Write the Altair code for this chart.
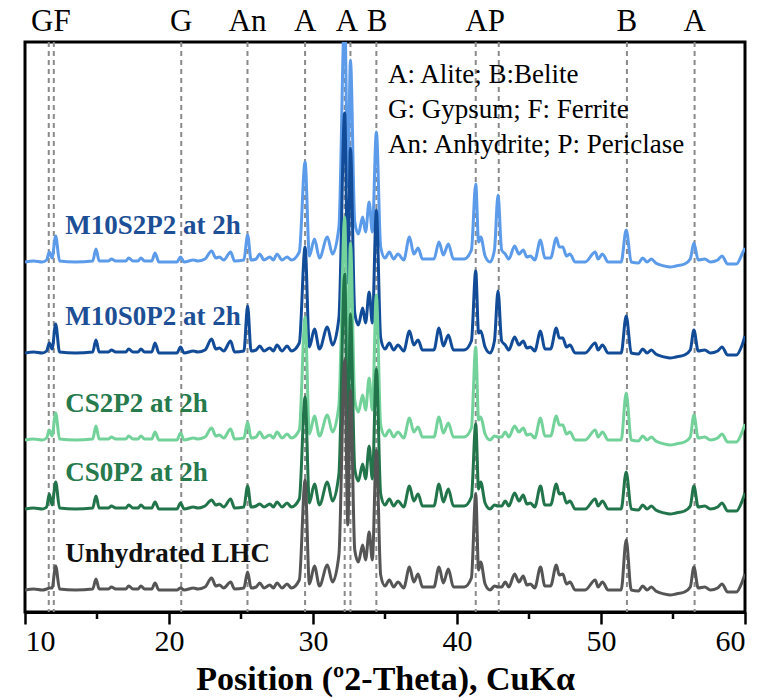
import altair as alt
import pandas as pd

# ---------------- data ----------------
two_theta = [
    10.0, 10.6, 11.2, 11.5, 11.69, 11.88, 12.13, 12.4, 13.5, 14.7,
    14.93, 15.15, 15.8, 16.0, 16.3, 17.0, 17.2, 17.5, 17.85, 18.05,
    18.3, 18.8, 19.03, 19.3, 20.55, 20.8, 21.05, 21.7, 22.0, 22.5,
    22.96, 23.25, 23.5, 23.8, 24.28, 24.55, 25.2, 25.46, 25.7, 26.05,
    26.3, 26.6, 27.0, 27.25, 27.5, 27.85, 28.2, 28.5, 29.05, 29.45,
    29.75, 30.1, 30.45, 31.0, 31.35, 31.8, 32.2, 32.42, 32.6, 32.9,
    33.15, 33.45, 33.65, 33.9, 34.12, 34.4, 34.7, 35.0, 35.3, 35.6,
    35.9, 36.3, 36.7, 37.0, 37.3, 37.6, 38.4, 38.75, 39.05, 39.4,
    39.75, 40.5, 41.0, 41.3, 41.5, 41.65, 41.95, 42.3, 42.6, 42.85,
    43.1, 43.35, 43.6, 44.0, 44.3, 44.6, 44.85, 45.1, 45.4, 45.8,
    46.1, 46.5, 46.9, 47.1, 47.35, 47.6, 47.85, 48.2, 48.9, 49.6,
    49.8, 50.1, 50.5, 51.4, 51.75, 52.1, 52.6, 52.9, 53.2, 53.5,
    53.8, 54.4, 54.8, 55.2, 55.8, 56.2, 56.45, 56.75, 57.2, 57.6,
    58.1, 58.4, 58.8, 59.4, 59.8, 60.0,
]

lhc = [
    0, 1, 0, 1, 2, 2, 24, 1, 0, 1,
    11, 1, 1, 3, 1, 1, 4, 1, 1, 4,
    1, 1, 7, 0, 0, 2, 0, 2, 1, 3,
    12, 4, 5, 2, 8, 1, 2, 18, 2, 3,
    7, 2, 5, 2, 7, 2, 6, 2, 10, 110,
    6, 24, 4, 25, 8, 35, 230, 65, 200, 40,
    28, 45, 30, 58, 30, 140, 15, 4, 10, 3,
    8, 2, 23, 8, 16, 3, 3, 23, 7, 21,
    3, 3, 12, 96, 20, 28, 6, 0, 4, 3,
    3, 8, 3, 16, 8, 14, 5, 6, 2, 23,
    4, 4, 25, 15, 16, 6, 8, 0, 0, 10,
    3, 8, 0, 0, 50, 0, -1, 4, 0, 3,
    -1, -4, -5, -4, -2, 3, 23, 2, 3, 0,
    2, 6, -2, -2, 8, 16,
]

cs0p2 = [
    0, 1, 0, 2, 15, 4, 27, 1, 0, 1,
    13, 1, 1, 3, 1, 1, 4, 1, 1, 4,
    1, 1, 7, 0, 0, 6, 0, 2, 1, 3,
    9, 4, 5, 2, 10, 1, 2, 23, 2, 3,
    5, 2, 5, 2, 7, 2, 6, 2, 10, 112,
    6, 25, 4, 27, 8, 35, 235, 55, 195, 40,
    28, 45, 30, 63, 30, 140, 15, 4, 10, 3,
    8, 2, 23, 8, 15, 3, 3, 25, 7, 20,
    3, 3, 12, 85, 20, 27, 6, 0, 4, 3,
    3, 8, 3, 16, 8, 14, 5, 6, 2, 23,
    4, 4, 25, 15, 16, 6, 8, 0, 0, 10,
    3, 8, 0, 0, 37, 0, -1, 4, 0, 3,
    -1, -4, -5, -4, -2, 3, 23, 2, 3, 0,
    2, 6, -2, -2, 8, 16,
]

cs2p2 = [
    0, 1, 0, 2, 10, 4, 27, 1, 0, 1,
    14, 1, 1, 3, 1, 1, 4, 1, 1, 4,
    1, 1, 8, 0, 0, 7, 0, 2, 1, 3,
    12, 4, 5, 2, 11, 1, 2, 18, 2, 3,
    8, 2, 5, 2, 8, 2, 6, 2, 10, 123,
    6, 24, 4, 25, 8, 35, 223, 70, 197, 40,
    28, 45, 30, 62, 30, 145, 15, 4, 10, 3,
    8, 2, 22, 8, 13, 3, 3, 23, 7, 17,
    3, 3, 12, 93, 20, 23, 6, 0, 4, 3,
    3, 8, 3, 14, 8, 12, 5, 6, 2, 22,
    4, 4, 24, 15, 15, 6, 8, 0, 0, 10,
    3, 8, 0, 0, 47, 0, -1, 4, 0, 3,
    -1, -4, -5, -4, -2, 3, 25, 2, 3, 0,
    2, 6, -2, -2, 8, 16,
]

m10s0p2 = [
    0, 1, 0, 2, 10, 4, 29, 1, 0, 1,
    13, 1, 1, 3, 1, 1, 4, 1, 1, 4,
    1, 1, 10, 0, 0, 6, 0, 2, 1, 3,
    14, 4, 5, 2, 12, 1, 2, 47, 2, 3,
    7, 2, 5, 2, 8, 2, 7, 2, 10, 106,
    6, 24, 4, 26, 8, 35, 240, 70, 205, 40,
    28, 45, 30, 61, 30, 143, 15, 4, 10, 3,
    8, 2, 22, 8, 13, 3, 3, 25, 7, 18,
    3, 3, 12, 82, 20, 22, 6, 0, 12, 62,
    12, 8, 3, 16, 8, 12, 5, 6, 2, 22,
    4, 4, 25, 15, 15, 6, 8, 0, 0, 10,
    3, 8, 0, 0, 37, 0, -1, 4, 0, 3,
    -1, -4, -5, -4, -2, 3, 23, 2, 3, 0,
    2, 6, -2, -2, 8, 17,
]

m10s2p2 = [
    0, 1, 0, 2, 10, 4, 26, 1, 0, 1,
    13, 1, 1, 3, 1, 1, 4, 1, 1, 4,
    1, 1, 9, 0, 0, 5, 0, 2, 1, 3,
    11, 4, 5, 2, 10, 1, 2, 27, 2, 3,
    8, 2, 5, 2, 8, 2, 5, 2, 10, 100,
    6, 23, 4, 25, 8, 35, 250, 75, 202, 40,
    28, 45, 30, 60, 30, 130, 15, 4, 10, 3,
    8, 2, 25, 8, 14, 3, 3, 20, 7, 18,
    3, 3, 12, 78, 20, 25, 6, 0, 12, 67,
    12, 8, 3, 16, 8, 12, 5, 6, 2, 22,
    4, 4, 24, 15, 15, 6, 8, 0, 0, 10,
    3, 8, 0, 0, 32, 0, -1, 4, 0, 3,
    -1, -4, -5, -4, -2, 3, 19, 2, 3, 0,
    2, 6, -2, -2, 8, 14,
]

# drawing order: top pattern first, bottom pattern last
series_names = ["M10S2P2 at 2h", "M10S0P2 at 2h", "CS2P2 at 2h", "CS0P2 at 2h", "Unhydrated LHC"]
series_values = [m10s2p2, m10s0p2, cs2p2, cs0p2, lhc]
series_offsets = [350, 259, 172, 103, 22]
line_colors = ["#5b9be9", "#124c98", "#72d29a", "#22744a", "#555555"]
label_colors = ["#1d4f96", "#1d4f96", "#267a4c", "#267a4c", "#111111"]

phase_positions = [11.65, 12.0, 20.85, 25.45, 29.45, 32.2, 32.6, 34.4, 41.3, 42.9, 51.8, 56.5]
phase_labels = ["GF", "G", "An", "A", "A", "B", "AP", "B", "A"]
phase_label_x = [11.8, 20.85, 25.45, 29.45, 32.35, 34.45, 41.95, 51.8, 56.5]
key_lines = ["A: Alite; B:Belite", "G: Gypsum; F: Ferrite", "An: Anhydrite; P: Periclase"]
minor_tick_x = [15, 25, 35, 45, 55]

for s in series_values:
    assert len(s) == len(two_theta)

# ---------------- chart ----------------
SERIF = "Liberation Serif"
W, H = 720, 570

x_scale = alt.Scale(domain=[10, 60], nice=False, zero=False)
y_scale = alt.Scale(domain=[0, H], nice=False, zero=False)
x_axis = alt.Axis(
    values=[10, 20, 30, 40, 50, 60], format="d", grid=False,
    labelFont=SERIF, labelFontSize=30, labelColor="black", labelPadding=2,
    tickSize=12, tickWidth=2.5, tickColor="black",
    domainColor="black", domainWidth=3,
    titleFont=SERIF, titleFontSize=34, titleFontWeight="bold", titleColor="black",
    titlePadding=6,
)
X = alt.X("x:Q", scale=x_scale, axis=x_axis, title="Position (º2-Theta), CuKα")
Y = alt.Y("y:Q", scale=y_scale, axis=None)

phase_df = pd.DataFrame({"x": phase_positions})
rules = alt.Chart(phase_df).mark_rule(
    color="#8a8a8a", strokeWidth=2, strokeDash=[5, 4]
).encode(x=X, y=alt.value(0), y2=alt.value(H))

layers = [rules]
for name, vals, off, col in zip(series_names, series_values, series_offsets, line_colors):
    df = pd.DataFrame({"x": two_theta, "y": [v + off for v in vals]})
    layers.append(
        alt.Chart(df).mark_line(color=col, strokeWidth=3, clip=True,
                                strokeJoin="round", interpolate="monotone")
        .encode(x=X, y=Y)
    )

lab_df = pd.DataFrame({
    "x": [12.8] * len(series_names),
    "y": [o + 36 for o in series_offsets],
    "name": series_names,
    "col": label_colors,
})
series_labels = alt.Chart(lab_df).mark_text(
    align="left", baseline="middle", font=SERIF, fontSize=27, fontWeight="bold"
).encode(x=X, y=Y, text="name:N", color=alt.Color("col:N", scale=None))
layers.append(series_labels)

top_df = pd.DataFrame({"x": phase_label_x, "t": phase_labels})
top_labels = alt.Chart(top_df).mark_text(
    baseline="middle", align="center", font=SERIF, fontSize=31, color="black"
).encode(x=X, y=alt.value(-20), text="t:N")
layers.append(top_labels)

for i, line in enumerate(key_lines):
    layers.append(
        alt.Chart(pd.DataFrame({"t": [line]})).mark_text(
            align="left", baseline="middle", font=SERIF, fontSize=27, color="black"
        ).encode(x=alt.value(363), y=alt.value(33 + 35 * i), text="t:N")
    )

minor_df = pd.DataFrame({"x": minor_tick_x})
minor = alt.Chart(minor_df).mark_rule(color="black", strokeWidth=2.5).encode(
    x=X, y=alt.value(H), y2=alt.value(H + 7)
)
layers.append(minor)

chart = alt.layer(*layers).properties(
    width=W, height=H,
    padding={"left": 25, "top": 42, "right": 19, "bottom": 86},
    autosize=alt.AutoSizeParams(type="none"),
    background="white",
).configure_view(
    stroke="black", strokeWidth=3
)

chart.save("out.html", embed_options={"renderer": "svg", "actions": False})
